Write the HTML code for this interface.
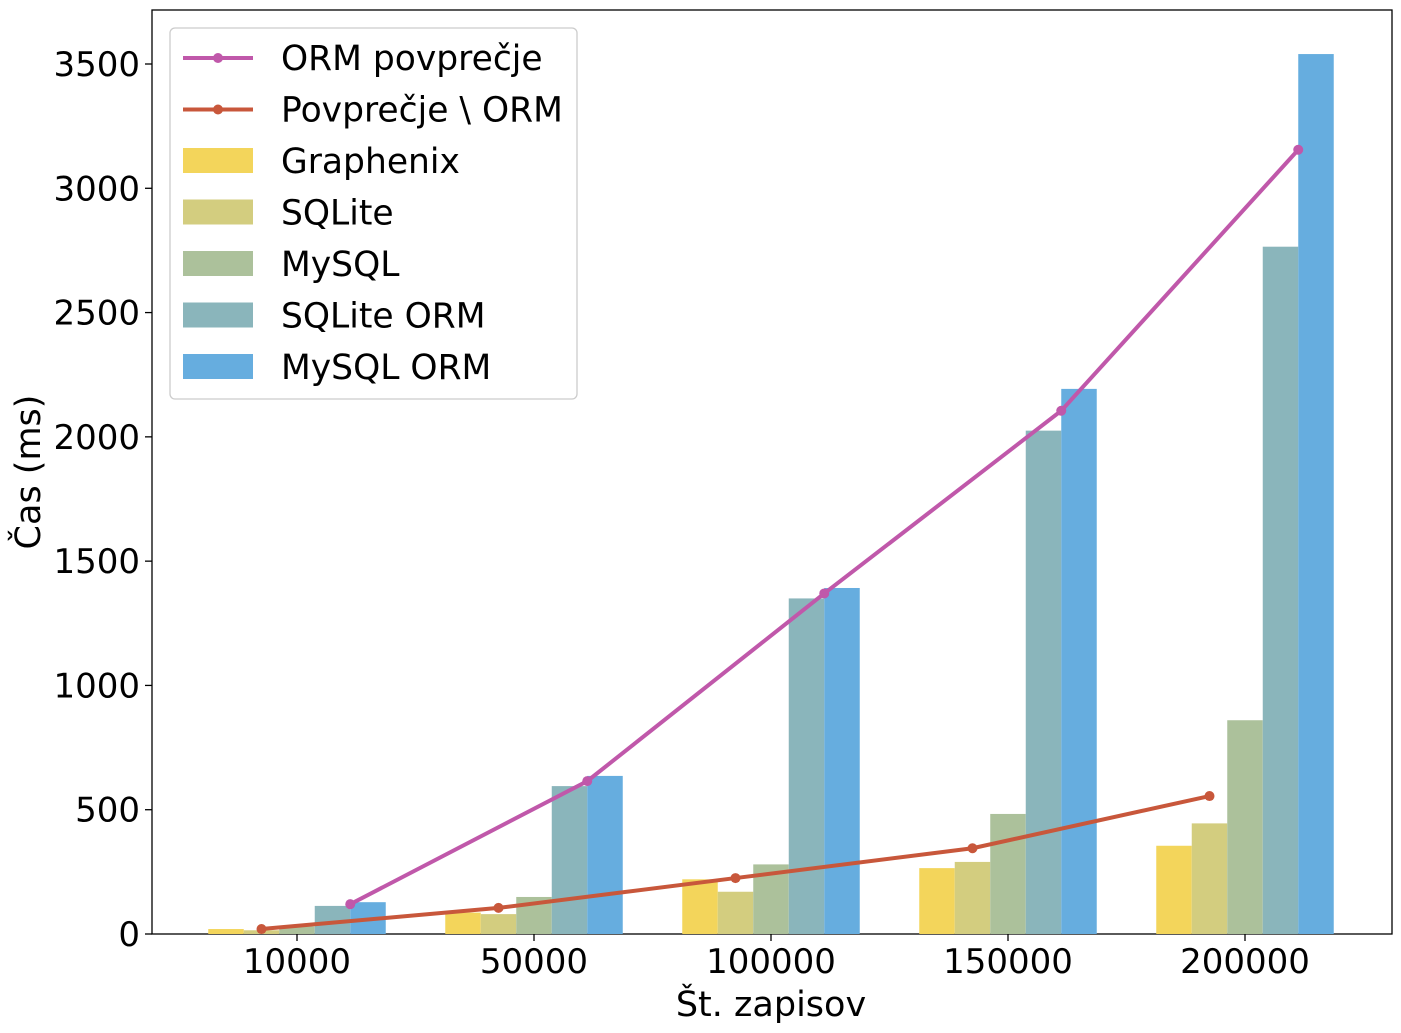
<!DOCTYPE html>
<html><head><meta charset="utf-8"><style>
body{margin:0;background:#fff;}
svg{display:block;font-family:"DejaVu Sans","Liberation Sans",sans-serif;}
</style></head><body>
<svg id="chart" width="1401" height="1033">
<rect x="152" y="10" width="1240" height="924" fill="none" stroke="#000" stroke-width="1.3"/>
<g id="bars"></g><g id="lines"></g><g id="axes"></g>
<text x="771" y="1016" font-size="35" text-anchor="middle">Št. zapisov</text>
<text transform="translate(40,472) rotate(-90)" font-size="35" text-anchor="middle">Čas (ms)</text>
<g id="legend">
<rect x="170" y="28" width="407" height="371" rx="5" fill="#fff" stroke="#ccc" stroke-width="1.3"/>
</g>
</svg>
<script>
const categories=["10000","50000","100000","150000","200000"];
const seriesNames=["Graphenix","SQLite","MySQL","SQLite ORM","MySQL ORM"];
const graphenix=[20,86,220,265,355];
const sqlite=[15,80,170,290,445];
const mysql=[30,149,280,483,860];
const sqliteOrm=[113,595,1350,2025,2765];
const mysqlOrm=[128,636,1392,2193,3540];
const ormAvg=[120,615,1370,2105,3155];
const nonOrmAvg=[20,105,225,345,555];
const yTicks=[0,500,1000,1500,2000,2500,3000,3500];
const colors=["#f3d55b","#d3cd7f","#acc19b","#8ab5bb","#66addf"];
const ns="http://www.w3.org/2000/svg";
const X0=297,DX=237,BW=35.5;
const xs=i=>X0+i*DX;
const ys=v=>934-v*870/3500;
function mk(tag,attrs,parent){const e=document.createElementNS(ns,tag);for(const k in attrs)e.setAttribute(k,attrs[k]);parent.appendChild(e);return e;}
const bars=document.getElementById('bars'),lines=document.getElementById('lines'),axes=document.getElementById('axes'),legend=document.getElementById('legend');
const all=[graphenix,sqlite,mysql,sqliteOrm,mysqlOrm];
all.forEach((s,si)=>s.forEach((v,i)=>{
 const r=mk('rect',{x:xs(i)+(si-2.5)*BW,y:ys(v),width:BW,height:934-ys(v),fill:colors[si]},bars);
 
 
}));
function line(data,off,col,name){
 const pts=data.map((v,i)=>(xs(i)+off)+','+ys(v)).join(' ');
 const p=mk('polyline',{points:pts,fill:'none',stroke:col,'stroke-width':4},lines);
 
 
 data.forEach((v,i)=>{const c=mk('circle',{cx:xs(i)+off,cy:ys(v),r:5,fill:col},lines);
  
  });
}
line(nonOrmAvg,-BW,'#c8573b','non-orm-average');
line(ormAvg,1.5*BW,'#c058aa','orm-average');
yTicks.forEach(t=>{const y=ys(t);
 mk('line',{x1:145,x2:152,y1:y,y2:y,stroke:'#000','stroke-width':1.3},axes);
 const tx=mk('text',{x:140,y:y+12,'font-size':34,'text-anchor':'end'},axes);tx.textContent=t;
 
 });
categories.forEach((c,i)=>{const x=xs(i);
 mk('line',{x1:x,x2:x,y1:934,y2:941,stroke:'#000','stroke-width':1.3},axes);
 const tx=mk('text',{x:x,y:973,'font-size':34,'text-anchor':'middle'},axes);tx.textContent=c;
 
 });
const legItems=[["ORM povprečje","line","#c058aa"],["Povprečje \\ ORM","line","#c8573b"]].concat(seriesNames.map((n,i)=>[n,"bar",colors[i]]));
legItems.forEach((it,k)=>{const y=58+k*51.5;
 const g=mk('g',{},legend);
 
 
 if(it[1]=="line"){mk('line',{x1:183,x2:253,y1:y,y2:y,stroke:it[2],'stroke-width':4},g);mk('circle',{cx:218,cy:y,r:5,fill:it[2]},g);}
 else mk('rect',{x:183,y:y-13,width:70,height:25,fill:it[2]},g);
 const t=mk('text',{x:281,y:y+12,'font-size':34.5},g);t.textContent=it[0];});
</script>
</body></html>
